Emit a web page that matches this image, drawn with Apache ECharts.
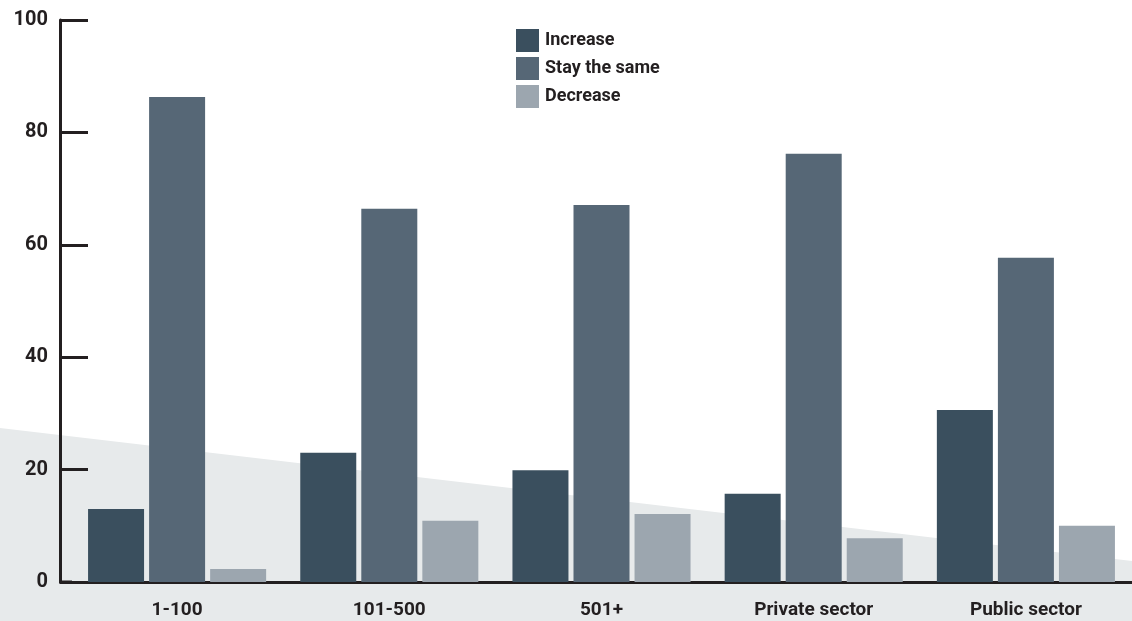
<!DOCTYPE html>
<html>
<head>
<meta charset="utf-8">
<script src="https://cdn.jsdelivr.net/npm/echarts@6/dist/echarts.min.js"></script>
<style>
  html, body { margin: 0; padding: 0; background: #fff; }
  #chart { width: 1132px; height: 621px; }
</style>
</head>
<body>
<div id="chart"></div>
<script>
var categories = ['1-100', '101-500', '501+', 'Private sector', 'Public sector'];
var increaseData = [13.0, 23.0, 19.9, 15.7, 30.6];
var sameData = [86.3, 66.4, 67.1, 76.2, 57.7];
var decreaseData = [2.3, 10.9, 12.1, 7.8, 10.0];
var yTicks = [0, 20, 40, 60, 80, 100];

const font = "Roboto, 'Liberation Sans', sans-serif";
const ink = '#231f20';

const chartOption = () => {
    return {
        animation: false,
        textStyle: { fontFamily: font },
        graphic: [
            {
                // light grey wedge behind the bars
                type: 'polygon',
                z: -10,
                shape: { points: [[0, 428], [1132, 561], [1132, 621], [0, 621]] },
                style: { fill: '#e7eaeb' }
            },
            {
                // short stub joining the y axis to the x axis
                type: 'line',
                z: 10,
                shape: { x1: 59, y1: 582, x2: 72, y2: 582 },
                style: { stroke: ink, lineWidth: 3 }
            }
        ],
        legend: {
            orient: 'vertical',
            left: 516,
            top: 29,
            padding: 0,
            itemWidth: 23,
            itemHeight: 23,
            itemGap: 5,
            icon: 'rect',
            textStyle: { fontSize: 18, fontWeight: 'bold', color: ink, fontFamily: font, padding: [0, 0, 0, 1] },
            data: ['Increase', 'Stay the same', 'Decrease']
        },
        grid: { left: 71, width: 1072, top: 20, bottom: 39 },
        xAxis: {
            type: 'category',
            data: categories,
            axisLine: { lineStyle: { color: ink, width: 3 } },
            axisTick: { show: false },
            axisLabel: { color: ink, fontSize: 19, fontWeight: 'bold', margin: 19, fontFamily: font }
        },
        yAxis: {
            type: 'value',
            min: yTicks[0],
            max: yTicks[yTicks.length - 1],
            interval: 20,
            offset: 11,
            splitLine: { show: false },
            axisLine: { show: true, lineStyle: { color: ink, width: 3 } },
            axisTick: { show: true, inside: true, length: 28, lineStyle: { color: ink, width: 3 } },
            axisLabel: { color: ink, fontSize: 20, fontWeight: 'bold', margin: 12, fontFamily: font }
        },
        series: [
            {
                name: 'Increase',
                type: 'bar',
                data: increaseData,
                barWidth: 56,
                barGap: '9%',
                itemStyle: { color: '#3a4f5e' }
            },
            {
                name: 'Stay the same',
                type: 'bar',
                data: sameData,
                barWidth: 56,
                barGap: '9%',
                itemStyle: { color: '#566776' }
            },
            {
                name: 'Decrease',
                type: 'bar',
                data: decreaseData,
                barWidth: 56,
                barGap: '9%',
                itemStyle: { color: '#9ca6af' }
            }
        ]
    };
};

window.addEventListener('load', () => {
    const chart = echarts.init(document.getElementById('chart'), null, { renderer: 'canvas' });
    chart.setOption(chartOption());
});
</script>
</body>
</html>
